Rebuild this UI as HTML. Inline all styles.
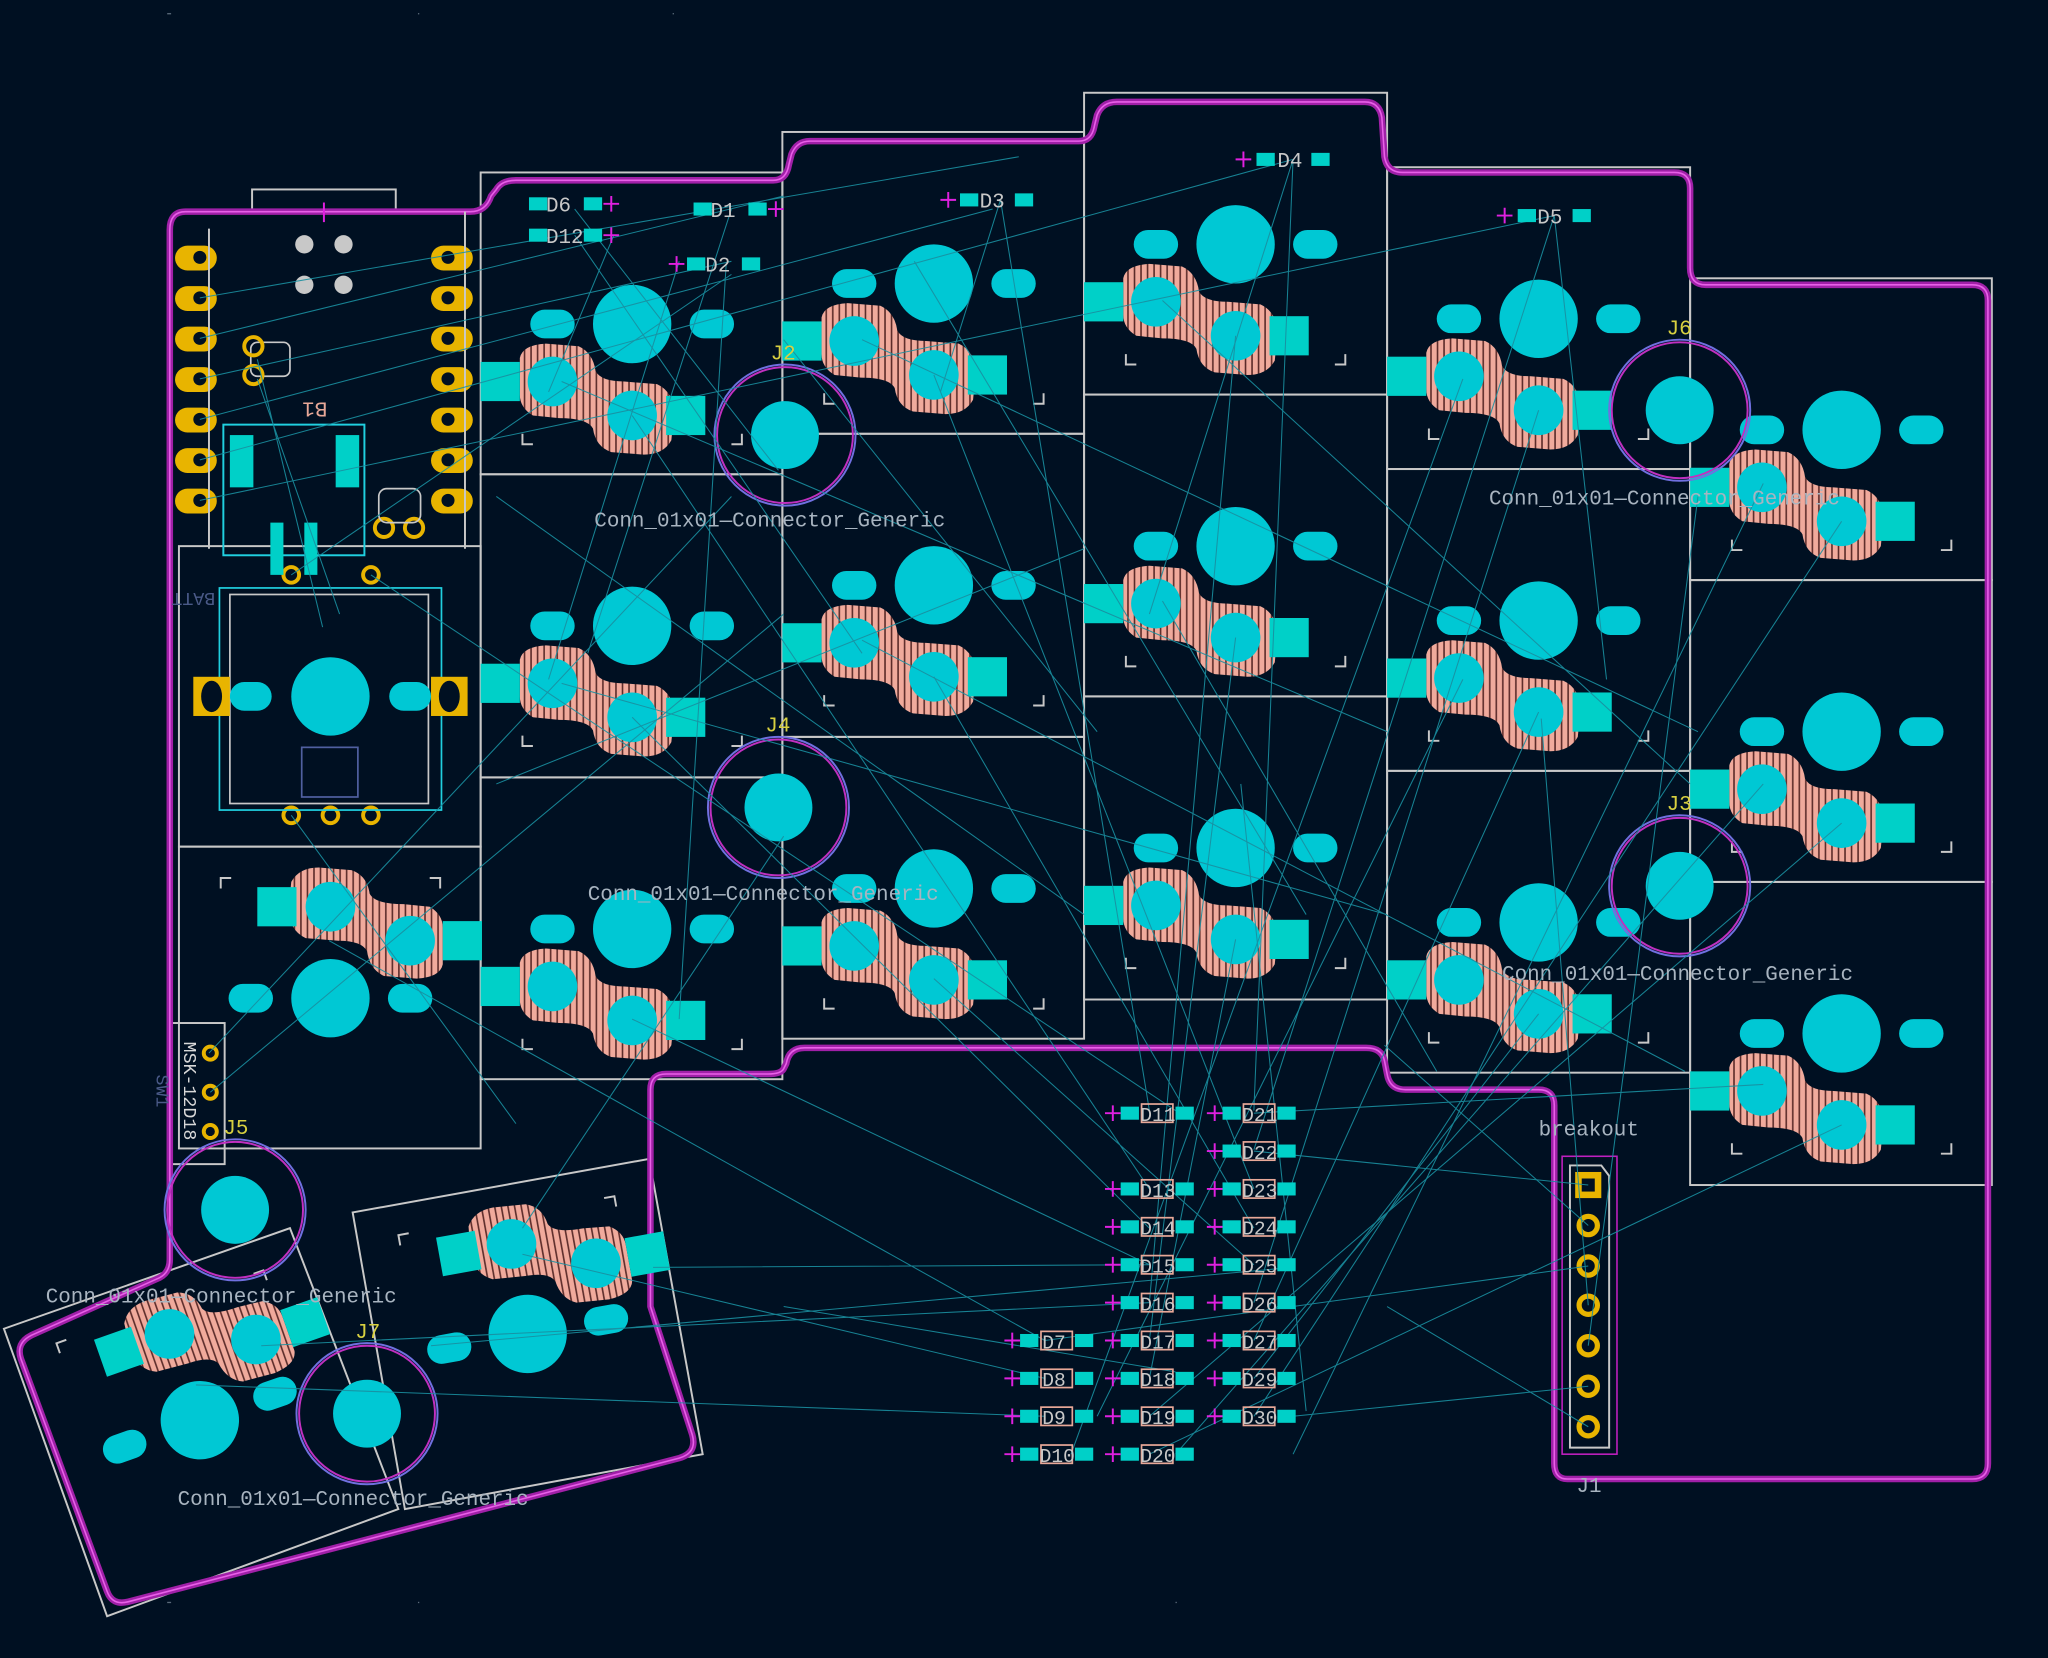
<!DOCTYPE html>
<html><head><meta charset="utf-8"><style>
html,body{margin:0;padding:0;background:#001022;}
svg{display:block;}
text{font-family:"Liberation Mono","DejaVu Sans Mono",monospace;}
</style></head><body>
<svg width="2048" height="1658" viewBox="0 0 1568 1269" preserveAspectRatio="none" xmlns="http://www.w3.org/2000/svg">
<defs>
<pattern id="hatch" width="5" height="5" patternUnits="userSpaceOnUse">
<rect width="5" height="5" fill="#f0aa9c"/><rect x="3" width="1.2" height="5" fill="#5a2a28"/>
</pattern>
<g id="sw">
<circle cx="116" cy="116" r="30" fill="#00c8d4"/>
<rect x="38" y="105" width="34" height="22" rx="11" fill="#00c8d4"/>
<rect x="160" y="105" width="34" height="22" rx="11" fill="#00c8d4"/>
<path d="M30,142 Q32,132 50,131 L75,133 Q86,138 88,152 Q92,160 110,160 L135,162 Q148,168 148,185 L146,205 Q140,216 125,216 L100,214 Q88,210 86,196 Q82,188 60,188 L40,186 Q30,180 30,170 Z" fill="url(#hatch)"/>
<circle cx="55" cy="160" r="19" fill="#00c8d4"/>
<circle cx="116" cy="186" r="19" fill="#00c8d4"/>
<rect x="0" y="145" width="30" height="30" fill="#00d0c8"/>
<rect x="142" y="171" width="30" height="30" fill="#00d0c8"/>
<path d="M32,200 v8 h8 M200,200 v8 h-8" stroke="#c8c8c8" stroke-width="1.5" fill="none"/>
</g>
</defs>
<rect width="1568" height="1269" fill="#001022"/>

<g fill="#5a6a7a">
<rect x="128" y="10" width="3" height="1"/><rect x="320" y="10" width="1" height="1"/><rect x="515" y="10" width="1" height="1"/>
<rect x="128" y="1226" width="3" height="1"/><rect x="320" y="1226" width="1" height="1"/><rect x="900" y="1226" width="1" height="1"/>
</g>

<g stroke="#c8c8c8" stroke-width="1.5" fill="none">
<rect x="368" y="132" width="231" height="231"/><rect x="368" y="363" width="231" height="232"/><rect x="368" y="595" width="231" height="231"/>
<rect x="599" y="101" width="231" height="231"/><rect x="599" y="332" width="231" height="232"/><rect x="599" y="564" width="231" height="231"/>
<rect x="830" y="71" width="232" height="231"/><rect x="830" y="302" width="232" height="231"/><rect x="830" y="533" width="232" height="232"/>
<rect x="1062" y="128" width="232" height="231"/><rect x="1062" y="359" width="232" height="231"/><rect x="1062" y="590" width="232" height="231"/>
<rect x="1294" y="213" width="231" height="231"/><rect x="1294" y="444" width="231" height="231"/><rect x="1294" y="675" width="231" height="232"/>
<rect x="137" y="418" width="231" height="230"/><rect x="137" y="648" width="231" height="231"/>
<polygon points="3,1017 222,940 305,1155 82,1237"/>
<polygon points="270,928 497,887 538,1113 310,1155"/>
<rect x="193" y="145" width="110" height="18"/>
<rect x="130" y="783" width="42" height="108"/>
</g>

<path d="M142,162 H360 Q372,162 376,150 L380,145 Q384,138 395,138 H592 Q602,138 604,126 L606,118 Q610,108 620,108 H826 Q836,108 838,96 L840,88 Q844,78 855,78 H1045 Q1056,78 1058,90 L1060,120 Q1062,132 1074,132 H1282 Q1294,132 1294,144 V205 Q1294,218 1306,218 H1510 Q1522,218 1522,230 V1120 Q1522,1132 1510,1132 H1200 Q1190,1132 1190,1120 V846 Q1190,834 1178,834 H1076 Q1064,834 1062,822 L1060,812 Q1058,802 1046,802 H616 Q604,802 602,814 L600,818 Q598,822 588,822 H510 Q498,822 498,834 V1000 L530,1098 Q534,1112 520,1116 L98,1226 Q86,1229 82,1218 L16,1040 Q12,1028 24,1022 L122,978 Q130,974 130,964 V176 Q130,162 142,162 Z" fill="none" stroke="#a020a8" stroke-width="5" stroke-linejoin="round"/>
<path d="M142,162 H360 Q372,162 376,150 L380,145 Q384,138 395,138 H592 Q602,138 604,126 L606,118 Q610,108 620,108 H826 Q836,108 838,96 L840,88 Q844,78 855,78 H1045 Q1056,78 1058,90 L1060,120 Q1062,132 1074,132 H1282 Q1294,132 1294,144 V205 Q1294,218 1306,218 H1510 Q1522,218 1522,230 V1120 Q1522,1132 1510,1132 H1200 Q1190,1132 1190,1120 V846 Q1190,834 1178,834 H1076 Q1064,834 1062,822 L1060,812 Q1058,802 1046,802 H616 Q604,802 602,814 L600,818 Q598,822 588,822 H510 Q498,822 498,834 V1000 L530,1098 Q534,1112 520,1116 L98,1226 Q86,1229 82,1218 L16,1040 Q12,1028 24,1022 L122,978 Q130,974 130,964 V176 Q130,162 142,162 Z" fill="none" stroke="#e860e8" stroke-width="1.2" stroke-linejoin="round"/>
<line x1="248" y1="155" x2="248" y2="170" stroke="#e020e0" stroke-width="1.5"/>

<use href="#sw" x="368" y="132"/><use href="#sw" x="368" y="363"/><use href="#sw" x="368" y="595"/>
<use href="#sw" x="599" y="101"/><use href="#sw" x="599" y="332"/><use href="#sw" x="599" y="564"/>
<use href="#sw" x="830" y="71"/><use href="#sw" x="830" y="302"/><use href="#sw" x="830" y="533"/>
<use href="#sw" x="1062" y="128"/><use href="#sw" x="1062" y="359"/><use href="#sw" x="1062" y="590"/>
<use href="#sw" x="1294" y="213"/><use href="#sw" x="1294" y="444"/><use href="#sw" x="1294" y="675"/>
<g transform="translate(137,648) rotate(180 116 116)"><use href="#sw"/></g>
<g transform="translate(153,1087) rotate(-19.4) rotate(180) translate(-116,-116)"><use href="#sw"/></g>
<g transform="translate(404,1021) rotate(-10.2) rotate(180) translate(-116,-116)"><use href="#sw"/></g>

<g fill="#c8c8c8"><circle cx="233" cy="187" r="7"/><circle cx="263" cy="187" r="7"/><circle cx="233" cy="218" r="7"/><circle cx="263" cy="218" r="7"/></g>
<g fill="#e8b400">
<rect x="134" y="188" width="32" height="19" rx="9.5"/><rect x="134" y="219" width="32" height="19" rx="9.5"/><rect x="134" y="250" width="32" height="19" rx="9.5"/><rect x="134" y="281" width="32" height="19" rx="9.5"/><rect x="134" y="312" width="32" height="19" rx="9.5"/><rect x="134" y="343" width="32" height="19" rx="9.5"/><rect x="134" y="374" width="32" height="19" rx="9.5"/>
<rect x="330" y="188" width="32" height="19" rx="9.5"/><rect x="330" y="219" width="32" height="19" rx="9.5"/><rect x="330" y="250" width="32" height="19" rx="9.5"/><rect x="330" y="281" width="32" height="19" rx="9.5"/><rect x="330" y="312" width="32" height="19" rx="9.5"/><rect x="330" y="343" width="32" height="19" rx="9.5"/><rect x="330" y="374" width="32" height="19" rx="9.5"/>
</g>
<g fill="#001022"><circle cx="153" cy="197" r="5"/><circle cx="153" cy="228" r="5"/><circle cx="153" cy="259" r="5"/><circle cx="153" cy="290" r="5"/><circle cx="153" cy="321" r="5"/><circle cx="153" cy="352" r="5"/><circle cx="153" cy="383" r="5"/>
<circle cx="343" cy="197" r="5"/><circle cx="343" cy="228" r="5"/><circle cx="343" cy="259" r="5"/><circle cx="343" cy="290" r="5"/><circle cx="343" cy="321" r="5"/><circle cx="343" cy="352" r="5"/><circle cx="343" cy="383" r="5"/></g>
<line x1="160" y1="175" x2="160" y2="420" stroke="#c8c8c8" stroke-width="1.5"/>
<line x1="356" y1="162" x2="356" y2="420" stroke="#c8c8c8" stroke-width="1.5"/>
<rect x="192" y="262" width="30" height="26" rx="5" fill="none" stroke="#c8c8c8" stroke-width="1.3"/>
<g fill="none" stroke="#e8b400" stroke-width="3"><circle cx="194" cy="265" r="7"/><circle cx="194" cy="287" r="7"/><circle cx="294" cy="404" r="7"/><circle cx="317" cy="404" r="7"/>
<circle cx="223" cy="440" r="6"/><circle cx="284" cy="440" r="6"/><circle cx="223" cy="624" r="6"/><circle cx="253" cy="624" r="6"/><circle cx="284" cy="624" r="6"/>
<circle cx="161" cy="806" r="5"/><circle cx="161" cy="836" r="5"/><circle cx="161" cy="866" r="5"/></g>
<rect x="290" y="374" width="32" height="26" rx="6" fill="none" stroke="#c8c8c8" stroke-width="1.3"/>
<text x="241" y="320" font-size="16" fill="#e8a898" text-anchor="middle" transform="rotate(180 241 314)">B1</text>
<rect x="171" y="325" width="108" height="100" fill="none" stroke="#20d0e0" stroke-width="1.5"/>
<rect x="176" y="333" width="18" height="40" fill="#00d0c8"/><rect x="257" y="333" width="18" height="40" fill="#00d0c8"/>
<rect x="207" y="400" width="10" height="40" fill="#00d0c8"/><rect x="233" y="400" width="10" height="40" fill="#00d0c8"/>
<rect x="168" y="450" width="170" height="170" fill="none" stroke="#20d0e0" stroke-width="1.3"/>
<rect x="176" y="455" width="152" height="160" fill="none" stroke="#c8c8c8" stroke-width="1.3"/>
<rect x="231" y="572" width="43" height="38" fill="none" stroke="#5060a0" stroke-width="1.3"/>
<circle cx="253" cy="533" r="30" fill="#00c8d4"/>
<rect x="176" y="522" width="32" height="22" rx="11" fill="#00c8d4"/><rect x="298" y="522" width="32" height="22" rx="11" fill="#00c8d4"/>
<rect x="148" y="518" width="28" height="30" fill="#e8b400"/><rect x="330" y="518" width="28" height="30" fill="#e8b400"/>
<ellipse cx="162" cy="533" rx="8" ry="12" fill="#001022"/><ellipse cx="344" cy="533" rx="8" ry="12" fill="#001022"/>
<text x="148" y="466" font-size="14" fill="#4a5a88" transform="rotate(180 148 460)" text-anchor="middle">BATT</text>
<text x="141" y="835" font-size="14" fill="#d8d8d8" transform="rotate(90 141 835)" text-anchor="middle">MSK-12D18</text>
<text x="120" y="835" font-size="14" fill="#4a5a88" transform="rotate(90 120 835)" text-anchor="middle">SW1</text>

<g>
<g fill="none" stroke-width="1.5"><circle cx="601" cy="333" r="54" stroke="#7070e0"/><circle cx="601" cy="333" r="52" stroke="#c030c0"/>
<circle cx="596" cy="618" r="54" stroke="#7070e0"/><circle cx="596" cy="618" r="52" stroke="#c030c0"/>
<circle cx="1286" cy="314" r="54" stroke="#7070e0"/><circle cx="1286" cy="314" r="52" stroke="#c030c0"/>
<circle cx="1286" cy="678" r="54" stroke="#7070e0"/><circle cx="1286" cy="678" r="52" stroke="#c030c0"/>
<circle cx="180" cy="926" r="54" stroke="#7070e0"/><circle cx="180" cy="926" r="52" stroke="#c030c0"/>
<circle cx="281" cy="1082" r="54" stroke="#7070e0"/><circle cx="281" cy="1082" r="52" stroke="#c030c0"/></g>
<g fill="#00c8d4"><circle cx="601" cy="333" r="26"/><circle cx="596" cy="618" r="26"/><circle cx="1286" cy="314" r="26"/><circle cx="1286" cy="678" r="26"/><circle cx="180" cy="926" r="26"/><circle cx="281" cy="1082" r="26"/></g>
</g>

<rect x="1196" y="885" width="42" height="228" fill="none" stroke="#c020c0" stroke-width="1.2"/>
<path d="M1202,892 H1226 L1232,900 V1108 H1202 Z" fill="none" stroke="#c8c8c8" stroke-width="1.5"/>
<rect x="1206" y="897" width="20" height="20" fill="#e8b400"/>
<g fill="none" stroke="#e8b400" stroke-width="4"><circle cx="1216" cy="938" r="7"/><circle cx="1216" cy="969" r="7"/><circle cx="1216" cy="999" r="7"/><circle cx="1216" cy="1030" r="7"/><circle cx="1216" cy="1061" r="7"/><circle cx="1216" cy="1092" r="7"/></g>
<rect x="1211" y="902" width="10" height="10" fill="#001022"/>

<g stroke="#1a8fa0" stroke-width="0.8" fill="none" opacity="0.9">
<path d="M153,228 L780,120 M153,259 L600,150 M153,290 L560,200 M153,321 L760,160 M153,352 L990,122 M153,383 L1190,165"/>
<path d="M197,275 L247,480 M197,290 L260,470 M223,440 L560,210 M284,440 L900,850 M223,624 L395,860"/>
<path d="M440,160 L596,360 M440,180 L660,500 M560,160 L450,500 M556,202 L520,780 M470,180 L420,300 M520,200 L420,520"/>
<path d="M766,153 L720,300 M766,153 L880,850 M990,122 L960,850 M990,122 L880,470 M1190,165 L1230,520 M1190,165 L960,880"/>
<path d="M484,318 L880,910 M484,549 L880,940 M484,780 L880,968 M715,287 L960,910 M715,518 L960,940 M715,749 L960,968"/>
<path d="M946,257 L880,997 M946,488 L880,1026 M946,719 L880,1055 M1178,314 L960,997 M1178,545 L960,1026 M1178,776 L960,1055"/>
<path d="M1410,399 L960,1084 M1410,630 L880,1084 M1410,861 L880,1113 M252,720 L800,1026 M400,960 L800,1055 M150,1060 L800,1084"/>
<path d="M430,292 L1062,560 M430,523 L1062,700 M660,260 L1300,560 M660,490 L1290,820 M890,230 L1294,600 M890,460 L1100,820"/>
<path d="M1120,290 L820,1113 M1120,520 L840,1084 M1350,370 L990,1113 M1350,600 L900,1113 M1350,830 L960,852 M1216,907 L960,881"/>
<path d="M1216,938 L1060,800 M1216,969 L800,1026 M1216,999 L1180,550 M1216,1030 L1300,380 M1216,1061 L990,1084 M1216,1092 L1062,1000"/>
<path d="M600,260 L840,560 M700,200 L1000,700 M380,380 L830,700 M380,600 L830,420 M600,640 L400,940 M500,970 L880,968"/>
<path d="M330,1030 L990,970 M200,1030 L880,997 M160,806 L560,380 M161,836 L600,470 M600,1000 L900,1050 M950,600 L1000,1080"/>
</g>

<g>
<g fill="#00d0c8">
<rect x="405" y="151" width="14" height="10"/><rect x="447" y="151" width="14" height="10"/>
<rect x="405" y="175" width="14" height="10"/><rect x="447" y="175" width="14" height="10"/>
<rect x="531" y="155" width="14" height="10"/><rect x="573" y="155" width="14" height="10"/>
<rect x="526" y="197" width="14" height="10"/><rect x="568" y="197" width="14" height="10"/>
<rect x="735" y="148" width="14" height="10"/><rect x="777" y="148" width="14" height="10"/>
<rect x="962" y="117" width="14" height="10"/><rect x="1004" y="117" width="14" height="10"/>
<rect x="1162" y="160" width="14" height="10"/><rect x="1204" y="160" width="14" height="10"/>
</g>
<g font-size="16" fill="#c8c8c8">
<text x="418" y="162">D6</text><text x="418" y="186">D12</text><text x="544" y="166">D1</text><text x="540" y="208">D2</text><text x="750" y="159">D3</text><text x="978" y="128">D4</text><text x="1177" y="171">D5</text>
</g>
<g stroke="#e020e0" stroke-width="1.5">
<path d="M462,156 h12 M468,150 v12 M462,180 h12 M468,174 v12 M588,160 h12 M594,154 v12 M512,202 h12 M518,196 v12 M720,153 h12 M726,147 v12 M946,122 h12 M952,116 v12 M1146,165 h12 M1152,159 v12"/>
</g>
</g>

<g>
<g fill="#00d0c8">
<rect x="858" y="847" width="14" height="10"/><rect x="900" y="847" width="14" height="10"/>
<rect x="858" y="905" width="14" height="10"/><rect x="900" y="905" width="14" height="10"/>
<rect x="858" y="934" width="14" height="10"/><rect x="900" y="934" width="14" height="10"/>
<rect x="858" y="963" width="14" height="10"/><rect x="900" y="963" width="14" height="10"/>
<rect x="858" y="992" width="14" height="10"/><rect x="900" y="992" width="14" height="10"/>
<rect x="858" y="1021" width="14" height="10"/><rect x="900" y="1021" width="14" height="10"/>
<rect x="858" y="1050" width="14" height="10"/><rect x="900" y="1050" width="14" height="10"/>
<rect x="858" y="1079" width="14" height="10"/><rect x="900" y="1079" width="14" height="10"/>
<rect x="858" y="1108" width="14" height="10"/><rect x="900" y="1108" width="14" height="10"/>
<rect x="936" y="847" width="14" height="10"/><rect x="978" y="847" width="14" height="10"/>
<rect x="936" y="876" width="14" height="10"/><rect x="978" y="876" width="14" height="10"/>
<rect x="936" y="905" width="14" height="10"/><rect x="978" y="905" width="14" height="10"/>
<rect x="936" y="934" width="14" height="10"/><rect x="978" y="934" width="14" height="10"/>
<rect x="936" y="963" width="14" height="10"/><rect x="978" y="963" width="14" height="10"/>
<rect x="936" y="992" width="14" height="10"/><rect x="978" y="992" width="14" height="10"/>
<rect x="936" y="1021" width="14" height="10"/><rect x="978" y="1021" width="14" height="10"/>
<rect x="936" y="1050" width="14" height="10"/><rect x="978" y="1050" width="14" height="10"/>
<rect x="936" y="1079" width="14" height="10"/><rect x="978" y="1079" width="14" height="10"/>
<rect x="781" y="1021" width="14" height="10"/><rect x="823" y="1021" width="14" height="10"/>
<rect x="781" y="1050" width="14" height="10"/><rect x="823" y="1050" width="14" height="10"/>
<rect x="781" y="1079" width="14" height="10"/><rect x="823" y="1079" width="14" height="10"/>
<rect x="781" y="1108" width="14" height="10"/><rect x="823" y="1108" width="14" height="10"/>
</g>
<g fill="none" stroke="#e8a898" stroke-width="1.3">
<rect x="874" y="845" width="24" height="14"/><rect x="874" y="903" width="24" height="14"/><rect x="874" y="932" width="24" height="14"/><rect x="874" y="961" width="24" height="14"/><rect x="874" y="990" width="24" height="14"/><rect x="874" y="1019" width="24" height="14"/><rect x="874" y="1048" width="24" height="14"/><rect x="874" y="1077" width="24" height="14"/><rect x="874" y="1106" width="24" height="14"/>
<rect x="952" y="845" width="24" height="14"/><rect x="952" y="874" width="24" height="14"/><rect x="952" y="903" width="24" height="14"/><rect x="952" y="932" width="24" height="14"/><rect x="952" y="961" width="24" height="14"/><rect x="952" y="990" width="24" height="14"/><rect x="952" y="1019" width="24" height="14"/><rect x="952" y="1048" width="24" height="14"/><rect x="952" y="1077" width="24" height="14"/>
<rect x="797" y="1019" width="24" height="14"/><rect x="797" y="1048" width="24" height="14"/><rect x="797" y="1077" width="24" height="14"/><rect x="797" y="1106" width="24" height="14"/>
</g>
<g font-size="15" fill="#c8c8c8">
<text x="873" y="858">D11</text><text x="873" y="916">D13</text><text x="873" y="945">D14</text><text x="873" y="974">D15</text><text x="873" y="1003">D16</text><text x="873" y="1032">D17</text><text x="873" y="1061">D18</text><text x="873" y="1090">D19</text><text x="873" y="1119">D20</text>
<text x="951" y="858">D21</text><text x="951" y="887">D22</text><text x="951" y="916">D23</text><text x="951" y="945">D24</text><text x="951" y="974">D25</text><text x="951" y="1003">D26</text><text x="951" y="1032">D27</text><text x="951" y="1061">D29</text><text x="951" y="1090">D30</text>
<text x="798" y="1032">D7</text><text x="798" y="1061">D8</text><text x="798" y="1090">D9</text><text x="796" y="1119">D10</text>
</g>
<g stroke="#e020e0" stroke-width="1.5">
<path d="M846,852 h12 M852,846 v12 M846,910 h12 M852,904 v12 M846,939 h12 M852,933 v12 M846,968 h12 M852,962 v12 M846,997 h12 M852,991 v12 M846,1026 h12 M852,1020 v12 M846,1055 h12 M852,1049 v12 M846,1084 h12 M852,1078 v12 M846,1113 h12 M852,1107 v12"/>
<path d="M924,852 h12 M930,846 v12 M924,881 h12 M930,875 v12 M924,910 h12 M930,904 v12 M924,939 h12 M930,933 v12 M924,968 h12 M930,962 v12 M924,997 h12 M930,991 v12 M924,1026 h12 M930,1020 v12 M924,1055 h12 M930,1049 v12 M924,1084 h12 M930,1078 v12"/>
<path d="M769,1026 h12 M775,1020 v12 M769,1055 h12 M775,1049 v12 M769,1084 h12 M775,1078 v12 M769,1113 h12 M775,1107 v12"/>
</g>
</g>

<g font-size="16" fill="#a8b4c0">
<text x="455" y="403">Conn_01x01—Connector_Generic</text>
<text x="450" y="689">Conn_01x01—Connector_Generic</text>
<text x="1140" y="386">Conn_01x01—Connector_Generic</text>
<text x="1150" y="750">Conn_01x01—Connector_Generic</text>
<text x="35" y="997">Conn_01x01—Connector_Generic</text>
<text x="136" y="1152">Conn_01x01—Connector_Generic</text>
<text x="1178" y="869">breakout</text>
<text x="1207" y="1142">J1</text>
</g>
<g font-size="16" fill="#d8d040">
<text x="590" y="275">J2</text><text x="586" y="560">J4</text><text x="1276" y="256">J6</text><text x="1276" y="620">J3</text><text x="171" y="868">J5</text><text x="272" y="1024">J7</text>
</g>
</svg>
</body></html>
